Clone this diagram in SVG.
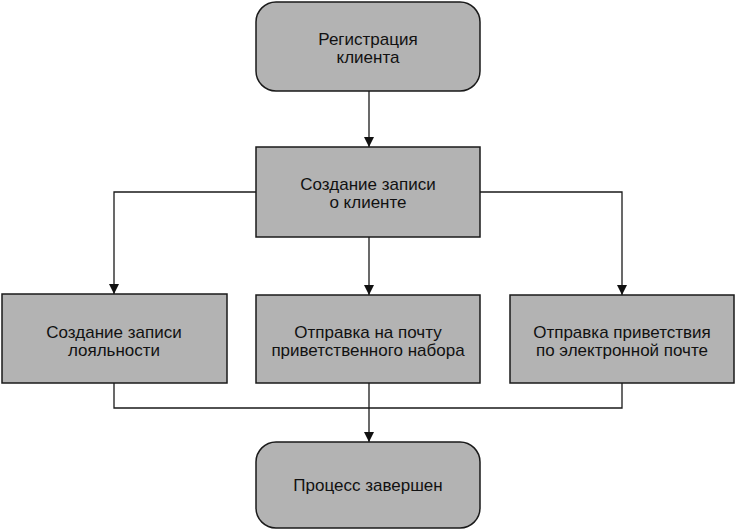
<svg xmlns="http://www.w3.org/2000/svg" width="736" height="532" viewBox="0 0 736 532">
<style>
.box{fill:#b3b3b3;stroke:#1a1a1a;stroke-width:1.5}
.t{font-family:"Liberation Sans",Arial,sans-serif;font-size:17px;fill:#111;text-anchor:middle}
.c{fill:none;stroke:#1a1a1a;stroke-width:1.3}
</style>
<defs>
<marker id="a" viewBox="0 0 10 10" refX="10" refY="5" markerWidth="10" markerHeight="10" markerUnits="userSpaceOnUse" orient="auto">
<path d="M0,0 L10,5 L0,10 z" fill="#111"/>
</marker>
</defs>
<rect width="736" height="532" fill="#fff"/>
<g id="connectors">
<path class="c" d="M369,91 V147" marker-end="url(#a)"/>
<path class="c" d="M256,192 H114 V294" marker-end="url(#a)"/>
<path class="c" d="M369,237 V295" marker-end="url(#a)"/>
<path class="c" d="M480,192 H622 V295" marker-end="url(#a)"/>
<path class="c" d="M114,383 V408 H622 V383"/>
<path class="c" d="M369,383 V442" marker-end="url(#a)"/>
</g>
<g id="n1"><rect class="box" x="256" y="2" width="224" height="89" rx="20"/>
<text class="t" x="368" y="45">Регистрация</text><text class="t" x="368" y="63">клиента</text></g>
<g id="n2"><rect class="box" x="256" y="147" width="224" height="90"/>
<text class="t" x="368" y="190">Создание записи</text><text class="t" x="368" y="208">о клиенте</text></g>
<g id="n3"><rect class="box" x="2" y="294" width="225" height="89"/>
<text class="t" x="114" y="338">Создание записи</text><text class="t" x="114" y="356">лояльности</text></g>
<g id="n4"><rect class="box" x="256" y="295" width="224" height="88"/>
<text class="t" x="368" y="338">Отправка на почту</text><text class="t" x="368" y="356">приветственного набора</text></g>
<g id="n5"><rect class="box" x="510" y="295" width="224" height="88"/>
<text class="t" x="622" y="338">Отправка приветствия</text><text class="t" x="622" y="356">по электронной почте</text></g>
<g id="n6"><rect class="box" x="256" y="442" width="224" height="86" rx="20"/>
<text class="t" x="368" y="491">Процесс завершен</text></g>
</svg>
